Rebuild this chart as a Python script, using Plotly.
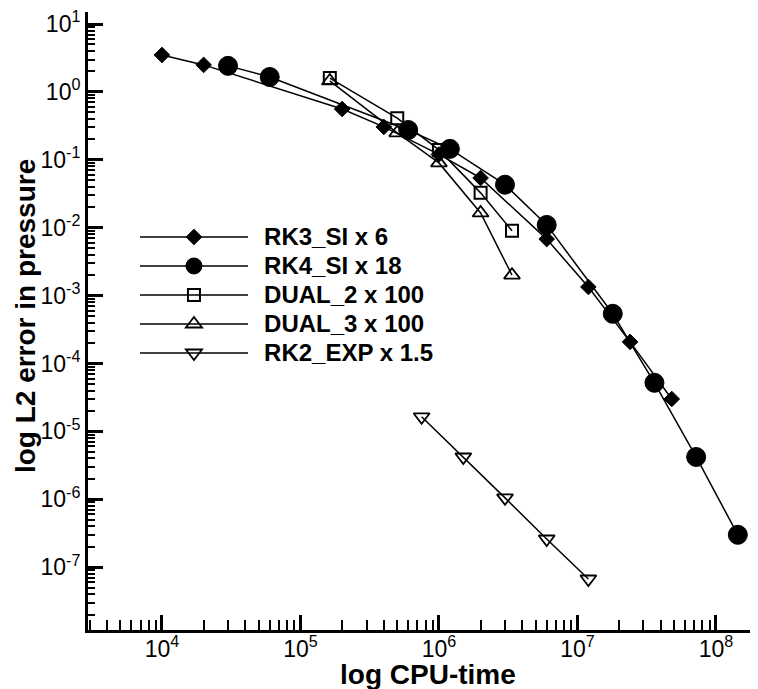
import plotly.graph_objects as go

# ---- data ----
rk3_x = [1e4, 2e4, 2e5, 4e5, 1e6, 2e6, 6e6, 1.2e7, 2.4e7, 4.8e7]
rk3_y = [3.5, 2.5, 0.56, 0.305, 0.12, 0.054, 0.0068, 1.34e-3, 2.08e-4, 3.0e-5]

rk4_x = [3e4, 6e4, 6e5, 1.2e6, 3e6, 6e6, 1.8e7, 3.6e7, 7.2e7, 1.44e8]
rk4_y = [2.42, 1.66, 0.275, 0.145, 0.043, 0.011, 5.4e-4, 5.2e-5, 4.2e-6, 3.0e-7]

dual2_x = [1.63e5, 5e5, 1e6, 2e6, 3.37e6]
dual2_y = [1.6, 0.41, 0.14, 0.0326, 0.009]

dual3_x = [1.63e5, 5e5, 1e6, 2e6, 3.37e6]
dual3_y = [1.45, 0.25, 0.09, 0.0165, 0.002]

rk2_x = [7.5e5, 1.5e6, 3e6, 6e6, 1.2e7]
rk2_y = [1.64e-5, 4.2e-6, 1.05e-6, 2.6e-7, 6.7e-8]

names = ["RK3_SI x 6", "RK4_SI x 18", "DUAL_2 x 100", "DUAL_3 x 100", "RK2_EXP x 1.5"]
x_title = "log CPU-time"
y_title = "log L2 error in pressure"

x_tickvals = [1e4, 1e5, 1e6, 1e7, 1e8]
x_ticktext = ["10<sup>4</sup>", "10<sup>5</sup>", "10<sup>6</sup>", "10<sup>7</sup>", "10<sup>8</sup>"]
y_tickvals = [1e1, 1e0, 1e-1, 1e-2, 1e-3, 1e-4, 1e-5, 1e-6, 1e-7]
y_ticktext = ["10<sup>1</sup>", "10<sup>0</sup>", "10<sup>-1</sup>", "10<sup>-2</sup>",
              "10<sup>-3</sup>", "10<sup>-4</sup>", "10<sup>-5</sup>", "10<sup>-6</sup>",
              "10<sup>-7</sup>"]

FONT = "Liberation Sans, Arial, sans-serif"

series = [
    (rk3_x, rk3_y, "diamond", 12, 1),
    (rk4_x, rk4_y, "circle", 19, 1),
    (dual2_x, dual2_y, "square-open", 12, 2),
    (dual3_x, dual3_y, "triangle-up-open", 14, 1.8),
    (rk2_x, rk2_y, "triangle-down-open", 14, 1.8),
]

fig = go.Figure()
for (xs, ys, sym, sz, lw), nm in zip(series, names):
    fig.add_trace(go.Scatter(
        x=xs, y=ys, mode="lines+markers",
        name="\u00a0\u00a0<span style='font-size:24px'>" + nm + "</span>",
        line=dict(color="black", width=1.5),
        marker=dict(symbol=sym, size=sz, color="black",
                    line=dict(color="black", width=lw)),
    ))

axis_common = dict(
    type="log", showline=True, linewidth=3, linecolor="black",
    ticks="inside", ticklen=15, tickwidth=3, tickcolor="black",
    showgrid=False, zeroline=False, ticklabeloverflow="allow",
    tickfont=dict(family=FONT, size=23, color="black"),
)

fig.update_xaxes(**axis_common, range=[3.466, 8.304],
                 tickmode="array", tickvals=x_tickvals, ticktext=x_ticktext,
                 ticklabelstandoff=-4,
                 minor=dict(ticks="inside", ticklen=10, tickwidth=1.5,
                            tickcolor="black", dtick="D1", showgrid=False))
fig.update_yaxes(**axis_common, range=[-7.925, 1.177],
                 tickmode="array", tickvals=y_tickvals, ticktext=y_ticktext,
                 minor=dict(ticks="inside", ticklen=7, tickwidth=1.5,
                            tickcolor="black", dtick="D1", showgrid=False))

fig.add_annotation(text="<b>" + x_title + "</b>", xref="paper", yref="paper",
                   x=0.5075, y=-0.0712, xanchor="center", yanchor="middle",
                   showarrow=False, font=dict(family=FONT, size=28, color="black"))
fig.add_annotation(text="<b>" + y_title + "</b>", xref="paper", yref="paper",
                   x=-0.094, y=0.508, xanchor="center", yanchor="middle",
                   textangle=-90, showarrow=False,
                   font=dict(family=FONT, size=28, color="black"))

# page body has an 8px margin, so the figure is sized/offset to land on the window
fig.update_layout(
    width=750, height=681,
    margin=dict(l=80, r=0, t=4, b=59),
    paper_bgcolor="white", plot_bgcolor="white",
    showlegend=True,
    legend=dict(x=0.0701, y=0.6675, xanchor="left", yanchor="top",
                bgcolor="rgba(0,0,0,0)", borderwidth=0,
                itemwidth=108, itemsizing="trace",
                font=dict(family=FONT, size=20, color="black", weight="bold")),
)

fig.write_html("out.html")
